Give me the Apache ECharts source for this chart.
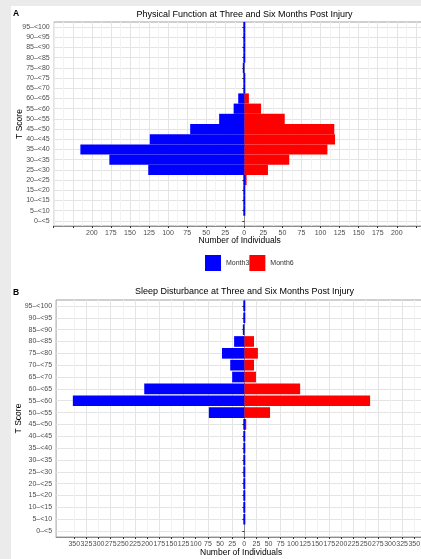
<!DOCTYPE html>
<html>
<head>
<meta charset="utf-8">
<script src="https://cdn.jsdelivr.net/npm/echarts@6/dist/echarts.min.js"></script>
<style>
  html, body { margin: 0; padding: 0; background: #ffffff; }
  #chart { position: absolute; left: 0; top: 0; width: 421px; height: 559px; }
  .strip { position: absolute; background: #ebebeb; z-index: 5; }
</style>
</head>
<body>
<div id="chart"></div>
<div class="strip" style="left:0;top:0;width:421px;height:6px;"></div>
<div class="strip" style="left:0;top:0;width:11px;height:559px;"></div>
<script>
// ---- data ----
const categories = ['0–<5','5–<10','10–<15','15–<20','20–<25','25–<30','30–<35','35–<40','40–<45','45–<50',
                    '50–<55','55–<60','60–<65','65–<70','70–<75','75–<80','80–<85','85–<90','90–<95','95–<100'];
// Physical Function (panel A): counts per T score band
const pfMonth3 = [null,0,0,0,0,126,177,215,124,71,33,14,8,0,0,2,0,0,0,0];
const pfMonth6 = [null,0,0,0,3,31,59,109,119,118,53,22,6,0,0,0,0,0,0,0];
// Sleep Disturbance (panel B)
const sdMonth3 = [null,0,0,0,0,0,0,0,0,0,73,353,206,25,29,46,21,3,0,0];
const sdMonth6 = [null,0,0,0,0,0,0,0,0,4,53,259,115,24,20,28,20,0,0,0];
// tick labels
const pfTicks = [-200,-175,-150,-125,-100,-75,-50,-25,0,25,50,75,100,125,150,175,200];
const sdTicks = [-350,-325,-300,-275,-250,-225,-200,-175,-150,-125,-100,-75,-50,-25,0,25,50,75,100,125,150,175,200,225,250,275,300,325,350];
const seriesNames = ['Month3','Month6'];
const titles = ['Physical Function at Three and Six Months Post Injury','Sleep Disturbance at Three and Six Months Post Injury'];
const panelTags = ['A','B'];
const xTitle = 'Number of Individuals';
const yTitle = 'T Score';

// ---- styling ----
const BLUE = '#0000ff', RED = '#ff0000';
const MAJOR = '#e4e4e4', MINOR = '#f2f2f2';
const TXT = '#4d4d4d';

function leftData(arr) {
  return arr.map(v => v === null ? '-' :
    (v === 0 ? { value: 0, itemStyle: { borderColor: BLUE, borderWidth: 2 } } : -v));
}
function rightData(arr) {
  return arr.map(v => v === null ? '-' : v);
}
function tickFormatter(ticks) {
  return function (v) {
    for (const t of ticks) { if (Math.abs(t - v) < 1e-6) return String(Math.abs(t)); }
    return '';
  };
}

const chart = echarts.init(document.getElementById('chart'), null, { renderer: 'canvas' });

const yAxisBase = (gi) => ({
  type: 'category', gridIndex: gi, data: categories, boundaryGap: true,
  name: yTitle, nameLocation: 'middle', nameGap: gi === 0 ? 30 : 33, nameMoveOverlap: false,
  nameTextStyle: { color: '#000', fontSize: 8.5, fontFamily: 'Liberation Sans' },
  axisLine: { show: true, lineStyle: { color: '#8c8c8c', width: 1 } },
  axisTick: { show: true, alignWithLabel: true, length: 2, lineStyle: { color: '#333' } },
  axisLabel: { color: TXT, fontSize: 7, margin: 4, fontFamily: 'Liberation Sans', interval: 0 },
  splitLine: { show: true, alignWithLabel: true, lineStyle: { color: MAJOR, width: 1 } }
});

const option = {
  animation: false,
  backgroundColor: '#ffffff',
  textStyle: { fontFamily: 'Liberation Sans' },
  title: [
    { text: titles[0], left: 244.5, top: 10, textAlign: 'center', padding: 0,
      textStyle: { fontSize: 9, fontWeight: 'normal', color: '#000', fontFamily: 'Liberation Sans' } },
    { text: titles[1], left: 244.5, top: 287.5, textAlign: 'center', padding: 0,
      textStyle: { fontSize: 9, fontWeight: 'normal', color: '#000', fontFamily: 'Liberation Sans' } },
    { text: panelTags[0], left: 13, top: 9.5, padding: 0,
      textStyle: { fontSize: 8.5, fontWeight: 'bold', color: '#000', fontFamily: 'Liberation Sans' } },
    { text: panelTags[1], left: 13, top: 288.5, padding: 0,
      textStyle: { fontSize: 8.5, fontWeight: 'bold', color: '#000', fontFamily: 'Liberation Sans' } }
  ],
  legend: {
    data: seriesNames, left: 205, top: 255, orient: 'horizontal',
    itemWidth: 16, itemHeight: 16, itemGap: 0, icon: 'rect', padding: 0,
    textStyle: { fontSize: 7, color: '#333', fontFamily: 'Liberation Sans' },
    selectedMode: false
  },
  grid: [
    { left: 53.7, top: 22, width: 372, height: 204, show: true, borderColor: '#a0a0a0', borderWidth: 1, backgroundColor: '#fff', containLabel: false, outerBoundsMode: 'none' },
    { left: 56.1, top: 300, width: 370, height: 237, show: true, borderColor: '#a0a0a0', borderWidth: 1, backgroundColor: '#fff', containLabel: false, outerBoundsMode: 'none' }
  ],
  xAxis: [
    { type: 'value', gridIndex: 0, min: -250, max: 237.9, interval: 25,
      name: xTitle, nameLocation: 'middle', nameGap: 10, nameMoveOverlap: false,
      nameTextStyle: { color: '#000', fontSize: 8.5, fontFamily: 'Liberation Sans' },
      axisLine: { show: true, onZero: false, lineStyle: { color: '#8c8c8c', width: 1 } },
      axisTick: { show: true, length: 2, lineStyle: { color: '#333' } },
      axisLabel: { color: TXT, fontSize: 7, margin: 4, formatter: tickFormatter(pfTicks), showMinLabel: true, showMaxLabel: true, hideOverlap: false },
      splitLine: { show: true, lineStyle: { color: MAJOR, width: 1 } },
      minorTick: { show: false, splitNumber: 2 },
      minorSplitLine: { show: true, lineStyle: { color: MINOR, width: 1 } }
    },
    { type: 'value', gridIndex: 1, min: -387.5, max: 374.3, interval: 12.5,
      name: xTitle, nameLocation: 'middle', nameGap: 11, nameMoveOverlap: false,
      nameTextStyle: { color: '#000', fontSize: 8.5, fontFamily: 'Liberation Sans' },
      axisLine: { show: true, onZero: false, lineStyle: { color: '#8c8c8c', width: 1 } },
      axisTick: { show: true, length: 2, lineStyle: { color: '#333' }, customValues: sdTicks },
      axisLabel: { color: TXT, fontSize: 7, margin: 4, formatter: tickFormatter(sdTicks), hideOverlap: false },
      splitLine: { show: true, lineStyle: { color: [MINOR, MAJOR], width: 1 } }
    }
  ],
  yAxis: [ yAxisBase(0), yAxisBase(1) ],
  series: [
    { name: seriesNames[0], type: 'bar', xAxisIndex: 0, yAxisIndex: 0, barGap: '-100%', barCategoryGap: '0%',
      itemStyle: { color: BLUE }, data: leftData(pfMonth3), z: 3 },
    { name: seriesNames[1], type: 'bar', xAxisIndex: 0, yAxisIndex: 0, barGap: '-100%', barCategoryGap: '0%',
      itemStyle: { color: RED }, data: rightData(pfMonth6), z: 2 },
    { name: seriesNames[0], type: 'bar', xAxisIndex: 1, yAxisIndex: 1, barGap: '-100%', barCategoryGap: '10%',
      itemStyle: { color: BLUE }, data: leftData(sdMonth3), z: 3 },
    { name: seriesNames[1], type: 'bar', xAxisIndex: 1, yAxisIndex: 1, barGap: '-100%', barCategoryGap: '10%',
      itemStyle: { color: RED }, data: rightData(sdMonth6), z: 2 }
  ]
};
chart.setOption(option);
</script>
</body>
</html>
